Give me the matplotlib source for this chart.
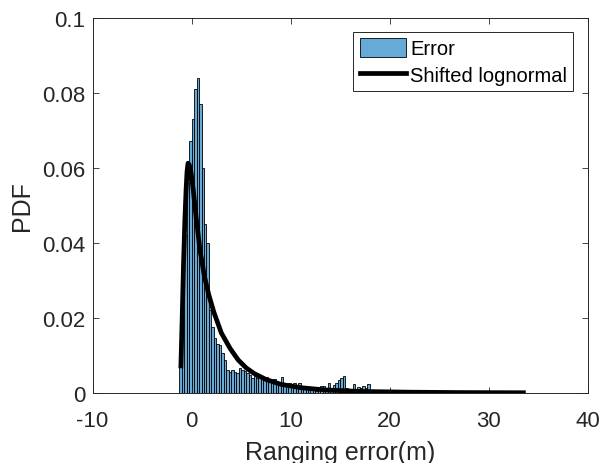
import numpy as np
import matplotlib
matplotlib.use("Agg")
import matplotlib.pyplot as plt

# histogram of the ranging error (bin width 0.25 m, starting at -1.25 m)
bin_start = -1.25
bin_width = 0.25
error_pdf = [
    0.0070, 0.022, 0.042, 0.056, 0.067, 0.073, 0.081, 0.084, 0.077, 0.060,
    0.045, 0.040, 0.022, 0.0175, 0.0146, 0.0130, 0.0128, 0.0106, 0.0088, 0.0060,
    0.0057, 0.0062, 0.0055, 0.0054, 0.0066, 0.0062, 0.0058, 0.0052, 0.0048, 0.0040,
    0.0044, 0.0039, 0.0046, 0.0041, 0.0036, 0.0042, 0.0034, 0.0032, 0.0038, 0.0030,
    0.0028, 0.0042, 0.0022, 0.0020, 0.0026, 0.0022, 0.0026, 0.0020, 0.0026, 0.0016,
    0.0012, 0.0014, 0.0010, 0.0008, 0.0010, 0.0006, 0.0008, 0.0018, 0.0018, 0.0010,
    0.0026, 0.0012, 0.0020, 0.0026, 0.0034, 0.0040, 0.0046, 0.0012, 0.0008, 0.0006,
    0.0024, 0.0010, 0.0016, 0.0012, 0.0018, 0.0012, 0.0024,
]

# fitted shifted lognormal curve
fit_x = [-1.08, -0.95, -0.82, -0.68, -0.56, -0.46, -0.36, -0.22, -0.05, 0.15,
         0.45, 0.85, 1.3, 1.75, 2.25, 3.0, 3.9, 4.7, 5.5, 6.3,
         7.5, 9.0, 11.0, 13.5, 17.0, 22.0, 27.0, 33.5]
fit_y = [0.0072, 0.020, 0.034, 0.046, 0.054, 0.059, 0.0612, 0.0607, 0.0585, 0.0545,
         0.047, 0.038, 0.031, 0.026, 0.0215, 0.0160, 0.0118, 0.0088, 0.0067, 0.0052,
         0.0036, 0.0023, 0.0014, 0.0008, 0.0004, 0.0002, 0.0001, 0.00005]

plt.rcParams["font.family"] = ["Liberation Sans", "DejaVu Sans"]
plt.rcParams["axes.unicode_minus"] = False

fig = plt.figure(figsize=(6.01, 4.64), dpi=100)
ax = fig.add_axes([0.154, 0.151, 0.824, 0.809])

lefts = bin_start + bin_width * np.arange(len(error_pdf))
bars = ax.bar(lefts, error_pdf, width=bin_width, align="edge",
              facecolor="#66AAD7", edgecolor="black", linewidth=0.6)
line, = ax.plot(fit_x, fit_y, color="black", linewidth=3.4)

ax.set_xlim(-10, 40)
ax.set_ylim(0, 0.1)
ax.set_xticks([-10, 0, 10, 20, 30, 40])
ax.set_yticks([0, 0.02, 0.04, 0.06, 0.08, 0.1])
ax.set_yticklabels(["0", "0.02", "0.04", "0.06", "0.08", "0.1"])
ax.tick_params(direction="in", top=True, right=True, length=4, width=0.6,
               labelsize=16, colors="#262626")
ax.tick_params(axis="x", pad=12)
ax.tick_params(axis="y", pad=5)
for s in ax.spines.values():
    s.set_linewidth(0.7)
    s.set_color("#262626")

ax.set_xlabel("Ranging error(m)", fontsize=18, color="#262626", labelpad=7)
ax.set_ylabel("PDF", fontsize=18, color="#262626", labelpad=6)

leg = ax.legend([bars, line], ["Error", "Shifted lognormal"],
                loc="upper right", bbox_to_anchor=(0.97, 0.961), fontsize=14.5,
                fancybox=False, framealpha=1, edgecolor="#262626",
                handlelength=2.3, handleheight=1.05, handletextpad=0.2,
                borderpad=0.3, labelspacing=0.3, borderaxespad=0)
leg.get_frame().set_linewidth(0.7)

fig.savefig("out.png", dpi=100)
